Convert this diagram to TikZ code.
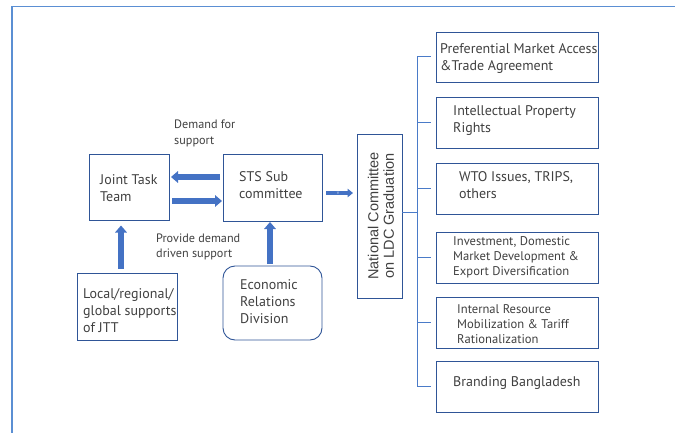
\documentclass[tikz,border=0pt]{standalone}
\usepackage{fontspec}
\setmainfont{PT Sans}
\newfontfamily\arialish{Liberation Sans}
\usetikzlibrary{arrows.meta}
\definecolor{boxline}{HTML}{2F5597}
\definecolor{arrowblue}{HTML}{4472C4}
\definecolor{spineblue}{HTML}{4A7BC8}
\definecolor{frameblue}{HTML}{5B8FD3}
\definecolor{inkgray}{HTML}{404040}

\begin{document}
\begin{tikzpicture}[x=1pt,y=-1pt,
  box/.style={draw=boxline, line width=0.9pt, inner sep=0pt, outer sep=0pt},
  rbox/.style={box, rounded corners=12pt},
  txt/.style={anchor=west, inner sep=0pt, align=left, text=inkgray},
  fbig/.style={font=\fontsize{14}{17}\selectfont},
  fmid/.style={font=\fontsize{12.6}{15}\selectfont},
  fnote/.style={font=\fontsize{12.2}{15.5}\selectfont},
  barrow/.style={draw=arrowblue, line width=5.2pt, -{Triangle[length=7pt,width=11.5pt]}},
  sarrow/.style={draw=arrowblue, line width=4pt, -{Triangle[length=5.5pt,width=8.5pt]}},
  spine/.style={draw=spineblue, line width=1pt},
]
\useasboundingbox (0,0) rectangle (675,433);

% outer frame
\draw[frameblue, line width=1.8pt] (12,433) -- (12,6.5) -- (675,6.5);

% left-hand boxes
\node[box, minimum width=80pt, minimum height=66pt] (jtt) at (129,187.5) {};
\node[box, minimum width=99pt, minimum height=67pt] (sts) at (272.5,187.5) {};
\node[box, minimum width=100pt, minimum height=67pt] (local) at (127,306.5) {};
\node[rbox, minimum width=99pt, minimum height=74pt] (erd) at (272.5,303) {};
\node[box, minimum width=45pt, minimum height=164pt] (nat) at (379.5,216) {};

% right-hand work areas
\node[box, minimum width=162pt, minimum height=50pt] (b1) at (517,57) {};
\node[box, minimum width=162pt, minimum height=51pt] (b2) at (517,122.5) {};
\node[box, minimum width=162pt, minimum height=51pt] (b3) at (517,188.5) {};
\node[box, minimum width=162pt, minimum height=51pt] (b4) at (517,257.5) {};
\node[box, minimum width=162pt, minimum height=51pt] (b5) at (517,322.5) {};
\node[box, minimum width=162pt, minimum height=51pt] (b6) at (517,386.5) {};

% box texts
\node[txt,fbig] (jtt-t) at (100,188) {Joint Task\\Team};
\node[txt,fbig] (sts-t) at (239,184.7) {STS Sub\\committee};
\node[txt,fbig] (local-t) at (83,310.7) {Local/regional/\\global supports\\of JTT};
\node[txt,fbig] (erd-t) at (240,302) {Economic\\Relations\\Division};
\node[inner sep=0pt, align=center, text=inkgray, rotate=90,
      font=\arialish\fontsize{14.5}{15.5}\selectfont] (nat-t) at (381,216)
      {National Committee\\on LDC Graduation};
\node[txt,fbig] (b1-t) at (440,59) {Preferential Market Access\\\&Trade Agreement};
\node[txt,fbig] (b2-t) at (453,121) {Intellectual Property\\Rights};
\node[txt,fbig] (b3-t) at (459,185) {WTO Issues, TRIPS,\\others};
\node[txt,fmid] (b4-t) at (453,257) {Investment, Domestic\\Market Development \&\\Export Diversification};
\node[txt,fmid] (b5-t) at (457,324) {Internal Resource\\Mobilization \& Tariff\\Rationalization};
\node[txt,fbig] (b6-t) at (453,383) {Branding Bangladesh};

% arrow captions
\node[txt,fnote] (dem) at (174,133.3) {Demand for\\support};
\node[txt,fnote] (prov) at (156,247) {Provide demand\\driven support};

% block arrows
\draw[barrow] ([xshift=-3pt,yshift=10.5pt]sts.west) -- ([xshift=2pt,yshift=10.5pt]jtt.east);
\draw[barrow] ([xshift=3pt,yshift=-13.5pt]jtt.east) -- ([xshift=-1pt,yshift=-13.5pt]sts.west);
\draw[barrow] ([xshift=-6pt,yshift=4pt]local.north) -- ([xshift=-8pt,yshift=-5pt]jtt.south);
\draw[barrow] ([xshift=-2.5pt,yshift=2pt]erd.north) -- ([xshift=-2.5pt,yshift=-1pt]sts.south);
\coordinate (stsout) at ([xshift=4pt,yshift=-5.5pt]sts.east);
\path (stsout -| nat.west) coordinate (natw);
\draw[sarrow] (stsout) -- node[pos=0.45, inner sep=0pt, text=white!70!arrowblue,
      font=\fontsize{5}{5}\selectfont] (vmark) {v} ([xshift=-4pt]natw);

% bracket to the work areas
\coordinate (sp1) at ([xshift=-19pt]b1.west);
\coordinate (sp6) at ([xshift=-19pt]b6.west);
\draw[spine] (sp1) -- (sp6);
\foreach \b in {b1,b2,b3,b4,b5,b6}
  \draw[spine] ([xshift=-19pt]\b.west) -- ([xshift=-5pt]\b.west);
\coordinate (natout) at ([yshift=4pt]nat.east);
\draw[spine] (natout) -- (natout -| sp1);
\end{tikzpicture}
\end{document}
